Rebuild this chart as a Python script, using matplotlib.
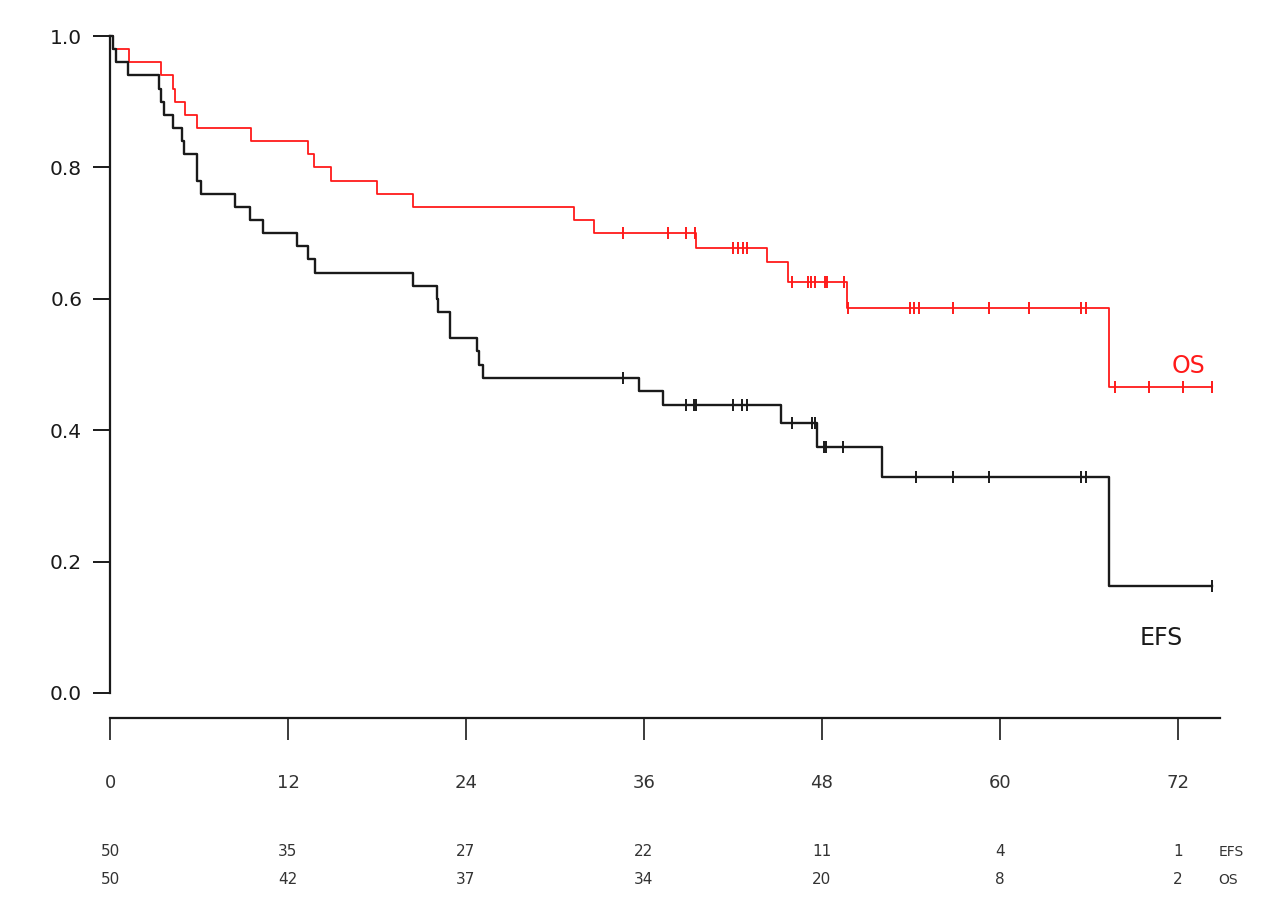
import numpy as np
import matplotlib
matplotlib.use('Agg')
import matplotlib.pyplot as plt
import matplotlib.transforms as mtransforms

# ---------------- data ----------------
os_times = [0, 0.22, 1.28, 3.42, 4.27, 4.38, 5.06, 5.85, 9.51, 13.37, 13.76, 14.90,
            17.98, 20.41, 31.31, 32.67, 39.52, 44.32, 45.74, 49.69, 67.38]
os_surv = [1.0, 0.98, 0.96, 0.94, 0.92, 0.90, 0.88, 0.86, 0.84, 0.82, 0.80, 0.78,
           0.76, 0.74, 0.72, 0.70, 0.678, 0.656, 0.626, 0.586, 0.466]
os_end = 74.29
os_censor = [34.61, 37.65, 38.84, 39.45, 42.03, 42.35, 42.68, 42.97, 45.96, 47.05,
             47.25, 47.54, 48.21, 48.35, 49.49, 49.75, 53.94, 54.23, 54.55, 56.82,
             59.25, 61.99, 65.48, 65.79, 67.77, 70.06, 72.33, 74.29]

efs_times = [0, 0.2, 0.4, 1.23, 3.32, 3.44, 3.64, 4.23, 4.83, 4.96, 5.85, 6.17,
             8.46, 9.47, 10.34, 12.63, 13.37, 13.82, 20.43, 22.03, 22.14, 22.93,
             24.77, 24.90, 25.13, 35.67, 37.27, 45.25, 47.69, 52.05, 67.38]
efs_surv = [1.0, 0.98, 0.96, 0.94, 0.92, 0.90, 0.88, 0.86, 0.84, 0.82, 0.78, 0.76,
            0.74, 0.72, 0.70, 0.68, 0.66, 0.64, 0.62, 0.60, 0.58, 0.54,
            0.52, 0.50, 0.48, 0.459, 0.438, 0.411, 0.375, 0.329, 0.163]
efs_end = 74.29
efs_censor = [34.61, 38.82, 39.40, 39.49, 41.99, 42.60, 42.93, 46.01, 47.32, 47.54,
              48.17, 48.28, 49.45, 54.35, 56.82, 59.25, 65.48, 65.79, 74.29]

x_ticks = [0, 12, 24, 36, 48, 60, 72]
y_ticks = [0.0, 0.2, 0.4, 0.6, 0.8, 1.0]
risk_efs = [50, 35, 27, 22, 11, 4, 1]
risk_os = [50, 42, 37, 34, 20, 8, 2]

# ---------------- figure ----------------
fig = plt.figure(figsize=(12.8, 9.17), dpi=100)
W, H = 1280, 917
ax = fig.add_axes([110 / W, 1 - 693 / H, 1110 / W, (693 - 36) / H])
ax.set_xlim(0, 74.85)
ax.set_ylim(0, 1.0)


def km_curve(times, surv, end, censor, color, lw):
    t = list(times) + [end]
    s = list(surv) + [surv[-1]]
    ax.step(t, s, where='post', color=color, lw=lw, clip_on=False, zorder=3)
    idx = np.searchsorted(np.array(times), np.array(censor), side='right') - 1
    cy = np.array(surv)[idx]
    ax.plot(censor, cy, linestyle='none', marker='|', markersize=9,
            markeredgewidth=1.4, color=color, clip_on=False, zorder=4)


km_curve(os_times, os_surv, os_end, os_censor, '#ff1a1a', 1.3)
km_curve(efs_times, efs_surv, efs_end, efs_censor, '#1a1a1a', 1.7)

ax.text(72.7, 0.498, 'OS', color='#ff1a1a', fontsize=17, ha='center', va='center')
ax.text(70.9, 0.084, 'EFS', color='#1a1a1a', fontsize=17, ha='center', va='center')

# spines
for sp in ['top', 'right']:
    ax.spines[sp].set_visible(False)
ax.spines['left'].set_bounds(0, 1)
ax.spines['left'].set_linewidth(1.6)
ax.spines['left'].set_color('#1a1a1a')
ax.spines['bottom'].set_position(('outward', 18))
ax.spines['bottom'].set_linewidth(1.6)
ax.spines['bottom'].set_color('#1a1a1a')

ax.set_yticks(y_ticks)
ax.set_yticklabels([f'{v:.1f}' for v in y_ticks])
ax.set_xticks(x_ticks)
ax.set_xticklabels([str(v) for v in x_ticks])
ax.tick_params(axis='y', direction='out', length=12, width=1.4, pad=8,
               labelsize=14.5, colors='#1a1a1a')
ax.tick_params(axis='x', direction='out', length=16, width=1.2, pad=24,
               labelsize=13, colors='#1a1a1a', labelcolor='#333333')

# numbers at risk
trans = mtransforms.blended_transform_factory(ax.transData, fig.transFigure)
for xv, a, b in zip(x_ticks, risk_efs, risk_os):
    ax.text(xv, 1 - 852 / H, str(a), transform=trans, ha='center', va='center',
            fontsize=11, color='#333333')
    ax.text(xv, 1 - 880 / H, str(b), transform=trans, ha='center', va='center',
            fontsize=11, color='#333333')
ax.text(74.75, 1 - 852 / H, 'EFS', transform=trans, ha='left', va='center',
        fontsize=10, color='#333333')
ax.text(74.75, 1 - 880 / H, 'OS', transform=trans, ha='left', va='center',
        fontsize=10, color='#333333')

fig.savefig('out.png', dpi=100, facecolor='white')
